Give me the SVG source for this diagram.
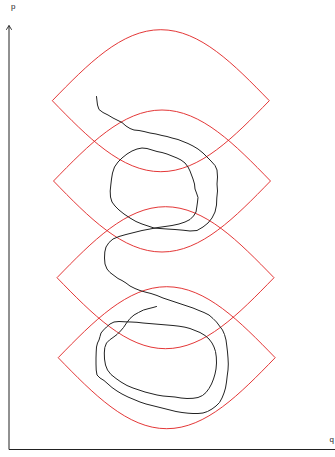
<svg xmlns="http://www.w3.org/2000/svg" width="335" height="457" viewBox="0 0 335 457">
<style>
.lens{fill:none;stroke:#e02020;stroke-width:0.9}
.axis{fill:none;stroke:#222;stroke-width:1}
.traj{fill:none;stroke:#222;stroke-width:1;stroke-linejoin:round;stroke-linecap:round}
.lbl{font-family:"Liberation Sans",Arial,sans-serif;font-size:8px;fill:#222}
</style>
<defs>
<path id="lensShape" d="M -108.5,0 C -73.1,-36.4 -39.3,-71 0,-71 C 39.3,-71 73.1,-36.4 108.5,0 C 73.1,36.4 39.3,71 0,71 C -39.3,71 -73.1,36.4 -108.5,0 Z"/>
<marker id="arr" markerWidth="8" markerHeight="8" refX="4.3" refY="3" orient="auto" markerUnits="userSpaceOnUse" viewBox="0 0 8 6">
<polyline points="0,0.3 4.3,3 0,5.7" fill="none" stroke="#222" stroke-width="0.9"/>
</marker>
</defs>
<rect width="335" height="457" fill="#fff"/>
<g id="axes">
<line class="axis" x1="9" y1="449.5" x2="9" y2="25.5" marker-end="url(#arr)"/>
<line class="axis" x1="9" y1="449.5" x2="335" y2="449.5"/>
<text class="lbl" x="11" y="9">p</text>
<text class="lbl" x="329.5" y="442">q</text>
</g>
<g id="lens1"><use href="#lensShape" class="lens" transform="translate(160.8,100.7)"/></g>
<g id="lens2"><use href="#lensShape" class="lens" transform="translate(162,181)"/></g>
<g id="lens3"><use href="#lensShape" class="lens" transform="translate(165.5,277.7)"/></g>
<g id="lens4"><use href="#lensShape" class="lens" transform="translate(166.7,357.7)"/></g>
<g id="trajectory">
<polyline class="traj" points="96.5,96.5 97,101 97.5,105 99,109.5 103,112.5 108,115 113,118 118,120.5 122,122.5 126,126 130,128.5 134,130 139,130.5 144,131.5 150,133 156,134 162,135.5 167,136.5 172,138 178,139.5 183,141.5 188,143.5 193,146 198,149 203,153 207,157 211,161 215,165.5 217,170 217.5,177 217,184 217.5,191 216.8,198 216.5,205 215,212 212,218 208,223 203,227 197,230.5 190,231 183,230.2 175,229.5 167,229 160,228.5 154,228 148,226 142,224 136,221.5 130,218 124,214 119,210 115,206 112,202 110.5,197 110.2,191 110.8,185 111.5,179 112.5,173 114.5,167 118,162 122,158 127,154 132,151 137,149 142,148 147,148.5 152,150 157,151.5 162,152.5 167,154 172,156 177,158 181,160 185,163 188,167 190,171 191.5,175 193,179 194.5,184 195,189 196.5,193 198,197.5 197.5,202 196.8,207 196,212 193.5,216 190,219.5 185,222 179,224 172,225.5 165,226.5 158,227.5 150,229 142,230.5 134,232.5 126,234.5 119,236.5 113,239 109,242.5 106,247 104.8,252 104.5,258 105,264 107,269 110,272.5 114,275.5 118,278.5 122,280.5 126,283 130,286 135,288.5 140,290.5 145,292 151,293.5 157,295.5 163,298 169,300 175,302 181,304 187,306 193,308 199,310.5 204,312.5 209,315 213,318.5 216.5,322 219.5,326 222.5,330 224.5,334.5 226,340 226.8,346 227.5,352 228,358 228.3,364 228,370 227.2,376 226.5,382 225.5,388 224,393 222,398 219.5,402.5 216,406 212,409 207.5,411.5 203,413 198,413.5 193,413.5 188,413.2 182,412.5 176,411.5 170,410 164,408.5 158,407 152,405.5 146,404 140,402 134,399.5 128,397 122,394 117,391 112,387.5 108,384 104,380.5 100,378 97,375 96.2,370 96,364 96,358 96.2,352 96.5,347 97.5,343 99,340 100,336.5 101,333 103.5,330 106.5,327 110,324 114,322 119,321.5 125,321.8 131,322 137,322.3 143,323 149,323.5 155,324 161,324.5 167,325 173,325.5 179,326.2 185,327.2 190,328.5 195,330.5 200,332.5 205,335.5 209,339 212,343 214,347 215.5,351.5 216.3,357 216.5,363 216,369 215,374 213.5,379 211.5,384 209,388.5 206,392.5 202.5,395.5 198,397.5 193,398.3 187,398.5 181,398 175,397 169,396.5 163,396 157,395 151,393.5 145,392 139,390 133,388 127,385.5 121,382 116,378.5 111,374.5 107.5,370 105.5,365 104.5,359 104.3,353 104.8,347.5 106.5,343 109.5,340 113,337.5 117,334.5 120.5,331 123.5,327.5 126.5,323 130,318.5 134,315 138.5,312.5 143.5,310 149,308.5 153,307.5 156.5,306.5"/>
</g>
</svg>
